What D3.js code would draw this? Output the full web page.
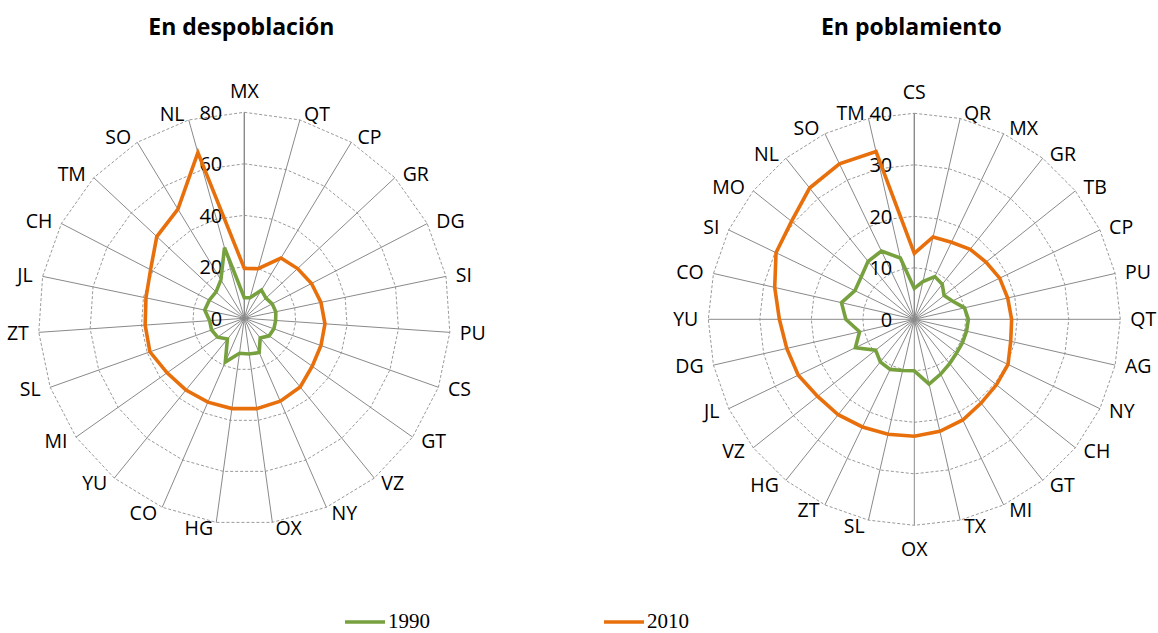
<!DOCTYPE html>
<html>
<head>
<meta charset="utf-8">
<style>
  body { margin: 0; background: #fff; }
  svg { display: block; font-family: 'Open Sans', sans-serif; }
  .title { font-weight: 700; font-size: 23px; fill: #000; }
  .cat { font-size: 19.5px; fill: #000; }
  .tick-label { font-size: 20px; fill: #000; }
  .spoke { stroke: #8a8a8a; stroke-width: 1; }
  .ring { fill: none; stroke: #9a9a9a; stroke-width: 1; stroke-dasharray: 3, 2; }
  .series { fill: none; stroke-width: 3.6; stroke-linejoin: miter; }
  .legend text { font-family: 'Liberation Serif', serif; font-size: 21px; fill: #000; }
</style>
</head>
<body>
<svg width="1158" height="633"></svg>

<script src="https://cdn.jsdelivr.net/npm/d3@7/dist/d3.min.js"></script>
<script>
// ---- data: left chart "En despoblación"
const leftCats = ["MX", "QT", "CP", "GR", "DG", "SI", "PU", "CS", "GT", "VZ", "NY", "OX",
                  "HG", "CO", "YU", "MI", "SL", "ZT", "JL", "CH", "TM", "SO", "NL"];
const left1990 = [8, 8.3, 12.8, 11.5, 12.2, 12.5, 12.2, 12.2, 11.8, 9.8, 14.5, 14,
                  13.7, 18.5, 10.4, 12.7, 13.5, 13.5, 15.7, 15.3, 15, 17.5, 28.5];
const left2010 = [19.4, 20, 27.4, 28.3, 29.4, 30.4, 31.4, 31.6, 32.3, 34.4, 35.1, 35.4,
                  35.4, 35.5, 35.9, 36.7, 38.9, 38.6, 39, 41, 46.5, 49.6, 66.8];
const leftTicks = [0, 20, 40, 60, 80];

// ---- data: right chart "En poblamiento"
const rightCats = ["CS", "QR", "MX", "GR", "TB", "CP", "PU", "QT", "AG", "NY", "CH", "GT", "MI", "TX",
                   "OX", "SL", "ZT", "HG", "VZ", "JL", "DG", "YU", "CO", "SI", "MO", "NL", "SO", "TM"];
const right1990 = [6, 7.5, 9.2, 8.7, 7.4, 8.2, 10, 10.5, 10.4, 10.4, 10.5, 11, 11.8, 12.9,
                   10, 10.2, 10.8, 10.6, 9.6, 12.7, 10.9, 13.3, 14.5, 12.8, 13.2, 14.4, 14.7, 12.2];
const right2010 = [12.8, 16.4, 16.6, 17.4, 17.8, 18.4, 18.6, 18.9, 19.2, 20.2, 20.4, 20.8, 21.7, 22.3,
                   22.7, 22.9, 23.2, 23.7, 24, 25, 25.4, 26.2, 27.8, 29.8, 30.5, 32.6, 33.5, 33.4];
const rightTicks = [0, 10, 20, 30, 40];

const seriesNames = ["1990", "2010"];
const seriesColors = ["#77a13e", "#e8700c"];

const svg = d3.select("svg");
const R = 206;

function radar(cx, cy, title, cats, values, ticks) {
    let g = svg.append("g").attr("transform", `translate(${cx},${cy})`);

    let angle = d3.scaleLinear().domain([0, cats.length]).range([0, 2 * Math.PI]);
    let r = d3.scaleLinear().domain([0, d3.max(ticks)]).range([0, R]);

    // title
    svg.append("text")
        .attr("class", "title")
        .attr("x", cx - 3)
        .attr("y", 35)
        .attr("text-anchor", "middle")
        .text(title);

    // dashed polygon gridlines
    g.selectAll(".ring")
        .data(ticks.filter(t => t > 0))
        .join("path")
        .attr("class", "ring")
        .attr("d", t => d3.lineRadial()
            .angle((d, i) => angle(i))
            .radius(r(t))
            .curve(d3.curveLinearClosed)(cats));

    // spokes
    g.selectAll(".spoke")
        .data(cats)
        .join("line")
        .attr("class", "spoke")
        .attr("x1", 0).attr("y1", 0)
        .attr("x2", (d, i) => r(d3.max(ticks)) * Math.sin(angle(i)))
        .attr("y2", (d, i) => -r(d3.max(ticks)) * Math.cos(angle(i)))
        .style("stroke-width", (d, i) => i == 0 ? 1.4 : 1);

    // value labels
    g.selectAll(".tick-label")
        .data(ticks)
        .join("text")
        .attr("class", "tick-label")
        .attr("x", -22)
        .attr("y", t => -r(t))
        .attr("dy", "0.36em")
        .attr("text-anchor", "end")
        .text(t => t);

    // series
    let line = d3.lineRadial()
        .angle((d, i) => angle(i))
        .radius(d => r(d))
        .curve(d3.curveLinearClosed);

    g.selectAll(".series")
        .data(values)
        .join("path")
        .attr("class", "series")
        .attr("stroke", (d, i) => seriesColors[i])
        .attr("d", line);

    // category labels
    g.selectAll(".cat")
        .data(cats)
        .join("text")
        .attr("class", "cat")
        .each(function (d, i) {
            let s = Math.sin(angle(i)), c = Math.cos(angle(i));
            let ex = R * s, ey = -R * c;
            let t = d3.select(this);
            if (Math.abs(s) < 0.05) {
                t.attr("x", ex)
                 .attr("y", c > 0 ? ey - 21 : ey + 24)
                 .attr("text-anchor", "middle");
            } else {
                t.attr("x", ex + s * 8 + Math.sign(s) * 2)
                 .attr("y", ey - c * 6)
                 .attr("text-anchor", s > 0 ? "start" : "end");
            }
        })
        .attr("dy", "0.36em")
        .text(d => d);
}

radar(244.3, 318.3, "En despoblación", leftCats, [left1990, left2010], leftTicks);
radar(914.3, 319.3, "En poblamiento", rightCats, [right1990, right2010], rightTicks);

// legend
let legend = svg.append("g").attr("class", "legend");
let legendX = [345, 604];
seriesNames.forEach((name, i) => {
    legend.append("line")
        .attr("x1", legendX[i]).attr("x2", legendX[i] + 40)
        .attr("y1", 622).attr("y2", 622)
        .attr("stroke", seriesColors[i])
        .attr("stroke-width", 3.6);
    legend.append("text")
        .attr("x", legendX[i] + 43)
        .attr("y", 628)
        .text(name);
});
</script>
</body>
</html>
